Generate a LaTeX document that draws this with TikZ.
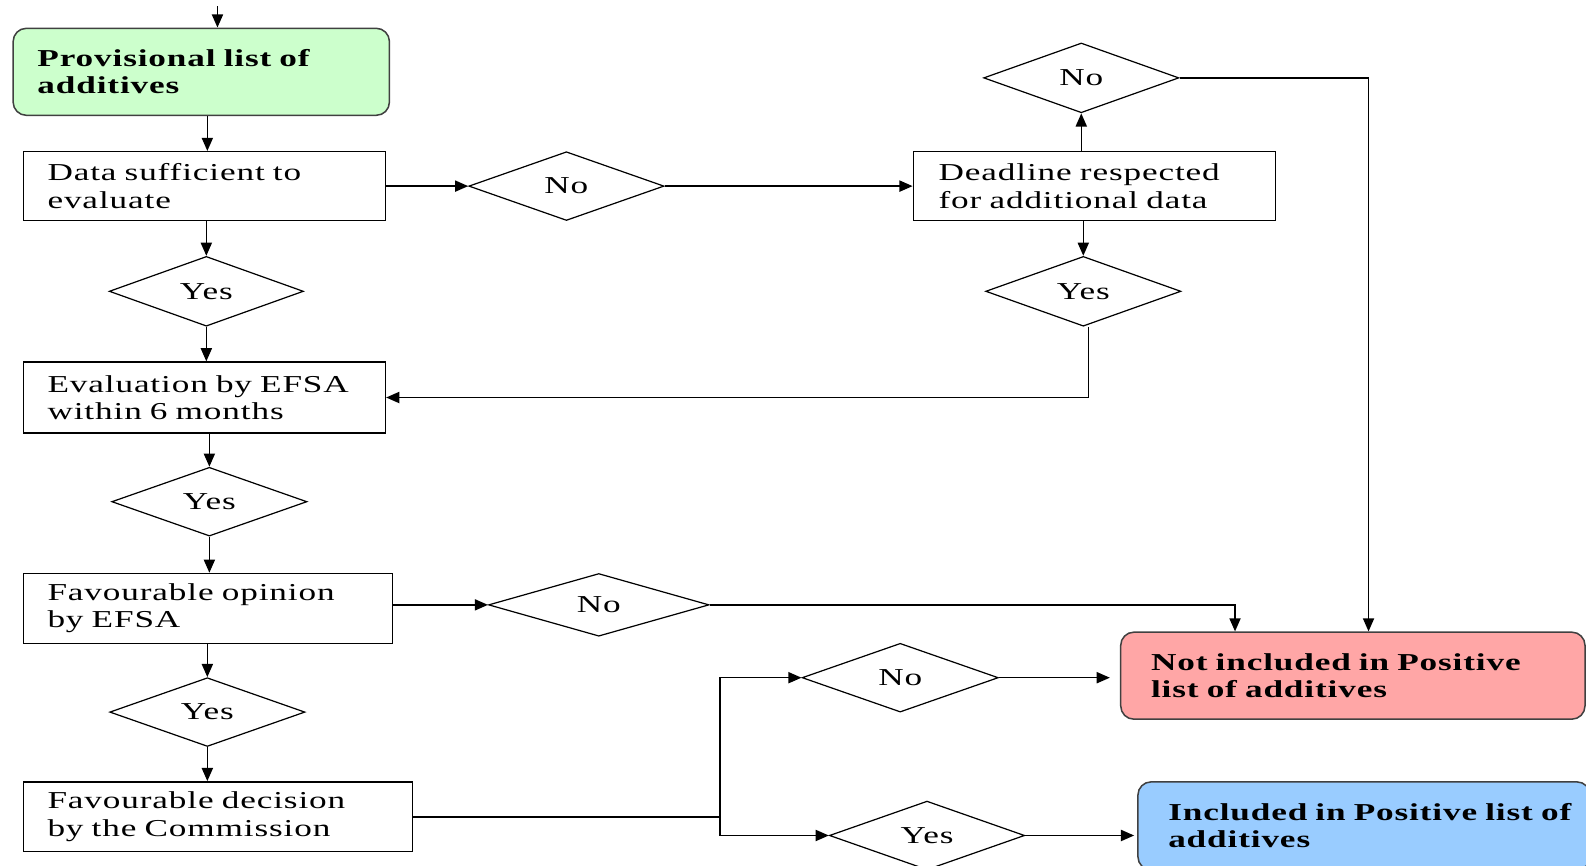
\documentclass[tikz,border=0pt]{standalone}
\usepackage{fontspec}
\setmainfont[FakeStretch=1.45,LetterSpace=3.6]{Liberation Serif}
\usetikzlibrary{shapes.geometric,arrows.meta}
\definecolor{gfill}{RGB}{204,255,204}
\definecolor{rfill}{RGB}{255,166,166}
\definecolor{bfill}{RGB}{153,204,255}
\tikzset{
  base/.style={font=\fontsize{24}{27}\selectfont, line width=1.5pt},
  box/.style={base, draw, rectangle, align=left, inner xsep=24pt, inner ysep=0pt},
  cbox/.style={base, draw=black!75, rectangle, rounded corners=13pt, align=left, inner xsep=30pt, inner ysep=0pt, font=\fontsize{24}{27}\selectfont\bfseries},
  dia/.style={base, line width=1.2pt, draw, diamond, inner sep=0pt, shape aspect=2.8},
  arr/.style={line width=1.5pt, -{Triangle[length=13pt,width=11pt]}},
  ln/.style={line width=1.5pt}
}
\begin{document}
\begin{tikzpicture}[x=1pt,y=-1pt]
\useasboundingbox (0,0) rectangle (1568,856);
\clip (0,0) rectangle (1568,856);
% boxes
\node[cbox, fill=gfill, inner xsep=24pt, text width=324pt, minimum height=86pt] (green) at (199,71) {Provisional list of\\additives};
\node[box, text width=310pt, minimum height=68pt] (data) at (202,184) {Data sufficient to\\evaluate};
\node[box, inner xsep=25pt, text width=308pt, minimum height=68pt] (dead) at (1082,184) {Deadline respected\\for additional data};
\node[box, text width=310pt, minimum height=70pt] (eval) at (202,393) {Evaluation by EFSA\\within 6 months};
\node[box, text width=317pt, minimum height=69pt] (favop) at (205.5,601.5) {Favourable opinion\\by EFSA};
\node[box, text width=337pt, minimum height=69pt] (dec) at (215.5,807.5) {Favourable decision\\by the Commission};
\node[cbox, fill=rfill, text width=399pt, minimum height=86pt] (red) at (1337.5,668) {Not included in Positive\\list of additives};
\node[cbox, fill=bfill, text width=387pt, minimum height=87pt] (blue) at (1348.5,816.5) {\mbox{Included in Positive list of}\\additives};
% diamonds
\node[dia, minimum width=193pt, minimum height=68pt] (no1) at (560,184) {No};
\node[dia, minimum width=193pt, minimum height=69pt] (no2) at (1069,77) {No};
\node[dia, minimum width=193pt, minimum height=69pt] (yes2) at (1071,288) {Yes};
\node[dia, minimum width=192pt, minimum height=69pt] (yes1) at (204,288) {Yes};
\node[dia, minimum width=193pt, minimum height=68pt] (yes3) at (207,496) {Yes};
\node[dia, minimum width=218pt, minimum height=62pt] (no3) at (592,598) {No};
\node[dia, minimum width=193pt, minimum height=68pt] (yes4) at (205,704) {Yes};
\node[dia, minimum width=194pt, minimum height=68pt] (no4) at (890,670) {No};
\node[dia, minimum width=193pt, minimum height=68pt] (yes5) at (916.5,826) {Yes};
% connectors
\coordinate (start) at (215,6);
\draw[arr] (start) -- (start |- green.north);
\draw[arr] ([xshift=6pt]green.south) -- ([xshift=6pt]green.south |- data.north);
\draw[arr] (yes1.north |- data.south) -- (yes1.north);
\draw[arr] (yes1.south) -- (yes1.south |- eval.north);
\draw[arr] (data.east) -- (no1.west);
\draw[arr] (no1.east) -- (dead.west);
\draw[arr] (no2.south |- dead.north) -- (no2.south);
\draw[arr] (yes2.north |- dead.south) -- (yes2.north);
\draw[arr] ([xshift=5pt]yes2.south) |- (eval.east);
\draw[arr] (no2.east) -| ([xshift=15.5pt]red.north);
\draw[arr] (yes3.north |- eval.south) -- (yes3.north);
\draw[arr] (yes3.south) -- (yes3.south |- favop.north);
\draw[arr] (favop.east |- no3.west) -- (no3.west);
\draw[arr] (no3.east) -| ([xshift=-116.5pt]red.north);
\draw[arr] (yes4.north |- favop.south) -- (yes4.north);
\draw[arr] (yes4.south) -- (yes4.south |- dec.north);
\coordinate (j) at (712,807.5);
\draw[ln] (dec.east) -- (j);
\draw[arr] (j) |- (no4.west);
\draw[arr] (j) |- (yes5.west);
\draw[arr, shorten >=10pt] (no4.east) -- (no4.east -| red.west);
\draw[arr, shorten >=3pt] (yes5.east) -- (yes5.east -| blue.west);
\end{tikzpicture}
\end{document}
